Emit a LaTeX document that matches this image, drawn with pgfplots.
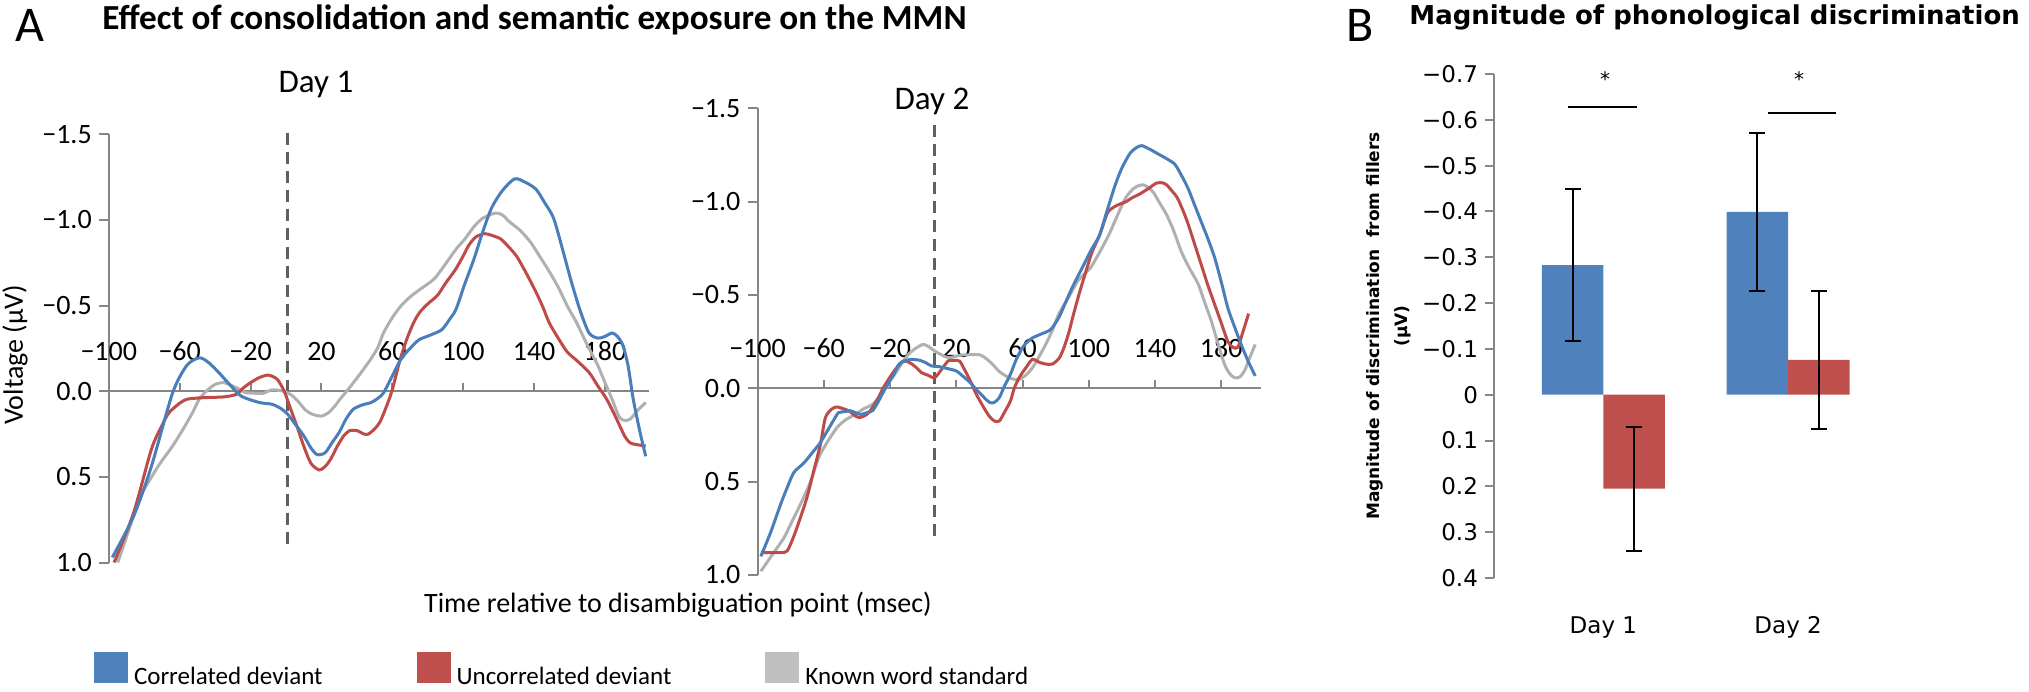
\documentclass[border=0pt]{standalone}
\usepackage{pgfplots}
\pgfplotsset{compat=1.18}
\usepackage{fontspec}
\setmainfont{Carlito}
\newfontfamily\dejavu{DejaVu Sans}
\definecolor{cblue}{HTML}{4A7EBB}
\definecolor{cred}{HTML}{BE4B48}
\definecolor{cgray}{HTML}{B0B0B0}
\definecolor{bblue}{HTML}{4F81BD}
\definecolor{bred}{HTML}{C0504D}
\definecolor{bgray}{HTML}{BFBFBF}
\definecolor{axgray}{HTML}{868686}
\definecolor{dashgray}{HTML}{606060}

\pgfplotsset{
  linepanel/.style={
    scale only axis, clip=false, enlargelimits=false,
    y dir=reverse,
    axis x line=middle, axis y line=left,
    hide obscured x ticks=false, hide obscured y ticks=false,
    axis line style={-, draw=axgray, line width=1pt},
    ymin=-1.5, ymax=1.0,
    ytick={-1.5,-1,-0.5,0,0.5,1},
    yticklabels={−1.5,−1.0,−0.5,0.0,0.5,1.0},
    xtick={-100,-60,-20,20,60,100,140,180},
    xticklabels={−100,−60,−20,20,60,100,140,180},
    xtick style={draw=none},
    tick align=outside,
    major tick length=5pt,
    ytick style={draw=axgray, line width=1pt},
    tick label style={font=\fontsize{14pt}{16pt}\selectfont},
    xticklabel style={anchor=center, yshift=25pt},
    every axis plot/.append style={line width=1.5pt, smooth, tension=0.45, mark=none},
  },
}

\begin{document}
\begin{tikzpicture}
\useasboundingbox (0,0) rectangle (1014.5pt,345.5pt);

% ---------------- Day 1 ----------------
\begin{axis}[linepanel,
  at={(189.525pt,171.3pt)}, anchor=center, width=270.25pt, height=214.1pt,
  xmin=-100, xmax=205,
  every axis y label/.style={at={(axis description cs:-0.1735,0.485)}, rotate=90, anchor=center, font=\fontsize{14pt}{16pt}\selectfont},
  ylabel={Voltage (μV)},
]
\pgfplotsinvokeforeach{-60,-20,20,60,100,140,180}{\draw[axgray, line width=1pt] (axis cs:#1,0) -- ++(0pt,4pt);}
\addplot[dashgray, sharp plot, line width=1.5pt, dash pattern=on 6pt off 3.5pt] coordinates {(1,-1.51) (1,0.905)};
\addplot[cgray] coordinates {(-95,1.0) (-89,0.82) (-83,0.63) (-77,0.52) (-71,0.42) (-64,0.32) (-58,0.22) (-53,0.13) (-49,0.047) (-45,0.0) (-40,-0.04) (-35,-0.05) (-30,-0.03) (-26,-0.01) (-23,0.008) (-17,0.012) (-13,0.012) (-8,-0.008) (-4,-0.005) (0,0.004) (4,0.03) (7.4,0.066) (11,0.11) (15,0.135) (20,0.145) (24,0.125) (27.6,0.086) (31,0.04) (35,-0.01) (41,-0.09) (48,-0.19) (52,-0.26) (55,-0.34) (60,-0.43) (65,-0.50) (70,-0.55) (75,-0.59) (83,-0.65) (87,-0.70) (90.5,-0.75) (96,-0.83) (101,-0.89) (106,-0.96) (111,-1.01) (118,-1.04) (122,-1.03) (126,-0.99) (132,-0.94) (138,-0.87) (143,-0.79) (148.5,-0.70) (154,-0.60) (158.6,-0.50) (164,-0.40) (168.6,-0.30) (173,-0.21) (176,-0.15) (180,-0.05) (184,0.047) (188,0.15) (191,0.17) (194,0.164) (197,0.13) (199,0.105) (203,0.066)};
\addplot[cred] coordinates {(-97,1.0) (-86,0.71) (-76,0.34) (-70,0.2) (-66,0.125) (-60,0.07) (-56,0.047) (-50,0.04) (-45,0.037) (-35,0.033) (-28,0.018) (-24,-0.02) (-20,-0.05) (-15,-0.08) (-10,-0.094) (-5,-0.07) (-1,0.0) (2,0.086) (6,0.2) (10,0.32) (14,0.42) (18.7,0.46) (22,0.44) (25,0.40) (29,0.32) (32.6,0.26) (36,0.23) (40,0.23) (44,0.25) (46.5,0.25) (50,0.22) (53,0.18) (57,0.08) (60,-0.01) (64,-0.17) (68,-0.30) (72,-0.40) (75.4,-0.46) (80,-0.51) (85.5,-0.56) (90,-0.63) (95.6,-0.71) (100,-0.79) (103,-0.85) (107,-0.90) (112,-0.92) (116,-0.91) (121,-0.89) (125,-0.85) (130,-0.79) (135,-0.70) (141,-0.58) (145,-0.49) (148.5,-0.40) (153,-0.32) (158.6,-0.23) (164,-0.18) (171,-0.11) (176,-0.03) (181,0.047) (186,0.15) (191,0.26) (194,0.30) (197,0.31) (203,0.32)};
\addplot[cblue] coordinates {(-98,0.97) (-86,0.73) (-76,0.44) (-64,0.01) (-56,-0.15) (-49,-0.195) (-44,-0.17) (-38,-0.11) (-31,-0.03) (-25,0.03) (-15,0.066) (-8,0.076) (-3,0.1) (1,0.135) (5,0.19) (10,0.26) (14,0.33) (17.5,0.37) (22,0.36) (26,0.3) (30,0.24) (34,0.16) (38,0.105) (43,0.08) (48,0.066) (52,0.04) (55,0.01) (60,-0.09) (65,-0.19) (70,-0.25) (75,-0.30) (82,-0.33) (88,-0.36) (93,-0.43) (96,-0.48) (101,-0.63) (106,-0.77) (111,-0.93) (116,-1.07) (122,-1.17) (129,-1.24) (135,-1.22) (141,-1.18) (146,-1.10) (151,-1.01) (156,-0.83) (161,-0.64) (166,-0.47) (171,-0.34) (176,-0.31) (180,-0.32) (184,-0.34) (187,-0.32) (190,-0.27) (193,-0.15) (196,0.05) (200,0.25) (203,0.38)};
\end{axis}

% ---------------- Day 2 ----------------
\begin{axis}[linepanel,
  at={(504.625pt,174.675pt)}, anchor=center, width=251.75pt, height=233.35pt,
  xmin=-100, xmax=204,
]
\pgfplotsinvokeforeach{-60,-20,20,60,100,140,180}{\draw[axgray, line width=1pt] (axis cs:#1,0) -- ++(0pt,4pt);}
\addplot[dashgray, sharp plot, line width=1.5pt, dash pattern=on 6pt off 3.5pt] coordinates {(7,-1.41) (7,0.80)};
\addplot[cgray] coordinates {(-98,0.98) (-91,0.89) (-84,0.80) (-79,0.71) (-74,0.62) (-68,0.50) (-63,0.37) (-58,0.29) (-52,0.21) (-47,0.17) (-41,0.14) (-36,0.11) (-30.6,0.086) (-25,0.03) (-20,-0.04) (-16,-0.09) (-12,-0.146) (-8,-0.19) (-4,-0.217) (0,-0.235) (3,-0.225) (7,-0.20) (11,-0.18) (15,-0.164) (19,-0.17) (23,-0.178) (28,-0.18) (34,-0.18) (38,-0.16) (42,-0.128) (46,-0.09) (50,-0.066) (54,-0.05) (58,-0.048) (62,-0.07) (66,-0.11) (70,-0.17) (74,-0.235) (78,-0.31) (82,-0.40) (88,-0.49) (93,-0.57) (97,-0.61) (101,-0.645) (106,-0.72) (112,-0.82) (116,-0.90) (120,-0.98) (123,-1.03) (127,-1.07) (130,-1.085) (133,-1.09) (136,-1.075) (139,-1.05) (143,-0.99) (147,-0.93) (151,-0.85) (156,-0.73) (161,-0.64) (166,-0.56) (170,-0.46) (174,-0.36) (178,-0.24) (182,-0.128) (185,-0.08) (188,-0.057) (191,-0.06) (194,-0.093) (197,-0.16) (200.5,-0.235)};
\addplot[cred] coordinates {(-98,0.88) (-86,0.88) (-82,0.87) (-78,0.79) (-74,0.69) (-70,0.58) (-66,0.44) (-62,0.30) (-59,0.157) (-55,0.11) (-52,0.10) (-48,0.11) (-45,0.12) (-42,0.14) (-38.7,0.157) (-34,0.14) (-30.6,0.103) (-27,0.05) (-24,-0.004) (-20,-0.06) (-16,-0.11) (-12,-0.146) (-8,-0.137) (-4,-0.11) (-1,-0.084) (3,-0.07) (7,-0.057) (11,-0.10) (15,-0.146) (18,-0.15) (22,-0.146) (25,-0.10) (28.5,-0.04) (32,0.03) (36.6,0.103) (40,0.15) (43,0.175) (46,0.175) (49,0.13) (52.7,0.068) (55,0.0) (58,-0.057) (62,-0.11) (66,-0.155) (70,-0.14) (74,-0.13) (78,-0.13) (82,-0.16) (85,-0.217) (88,-0.30) (90.3,-0.38) (94,-0.50) (98.4,-0.63) (102,-0.73) (106.5,-0.82) (110,-0.91) (112,-0.95) (117,-0.98) (122.6,-1.00) (126,-1.02) (130.6,-1.04) (136,-1.07) (141,-1.10) (145,-1.10) (147,-1.09) (150,-1.06) (153.5,-1.02) (157,-0.95) (160,-0.88) (164,-0.77) (168,-0.66) (172,-0.55) (176,-0.45) (180,-0.35) (184,-0.25) (187,-0.22) (190,-0.22) (193,-0.30) (196.5,-0.40)};
\addplot[cblue] coordinates {(-98,0.90) (-92,0.77) (-86,0.62) (-82,0.53) (-78,0.45) (-72,0.40) (-66,0.335) (-62,0.29) (-58,0.23) (-54,0.17) (-51,0.13) (-47,0.125) (-44,0.12) (-41,0.13) (-37.4,0.14) (-34,0.13) (-30.6,0.12) (-27,0.07) (-22.6,-0.004) (-18,-0.07) (-14.5,-0.13) (-10,-0.15) (-6.5,-0.155) (-2,-0.15) (1.6,-0.137) (5,-0.12) (9.7,-0.116) (15,-0.105) (20,-0.093) (24,-0.065) (28.5,-0.03) (32,0.005) (35,0.032) (38,0.06) (40.6,0.077) (43,0.075) (46,0.05) (49,-0.01) (52.7,-0.075) (56,-0.15) (59.4,-0.21) (62,-0.24) (66,-0.27) (71,-0.29) (77,-0.315) (82,-0.38) (86,-0.46) (90,-0.54) (94,-0.61) (98,-0.68) (102,-0.75) (106.5,-0.82) (111,-0.95) (116,-1.09) (120,-1.18) (125,-1.26) (129,-1.29) (132,-1.30) (137,-1.28) (141,-1.26) (147,-1.23) (152,-1.20) (156,-1.14) (160,-1.07) (164,-0.98) (168,-0.89) (172,-0.80) (176,-0.70) (180,-0.57) (184,-0.43) (188,-0.33) (192,-0.235) (196,-0.15) (200.5,-0.066)};
\end{axis}

% ---------------- Legend ----------------
\begin{axis}[hide axis, scale only axis, width=10pt, height=10pt,
  at={(47pt,10.5pt)}, anchor=west, xmin=0, xmax=1, ymin=0, ymax=1,
  legend columns=3,
  legend style={at={(0,0.5)}, anchor=west, draw=none, fill=none, inner sep=0pt, outer sep=0pt,
    nodes={inner sep=0pt}, font=\fontsize{12.5pt}{15pt}\selectfont,
    /tikz/every even column/.append style={column sep=47pt}},
  legend image code/.code={\fill[#1] (0pt,-3pt) rectangle (17pt,12.5pt); \path (20pt,0pt);},
]
\addlegendimage{fill=bblue, draw=none}
\addlegendentry{Correlated deviant}
\addlegendimage{fill=bred, draw=none}
\addlegendentry{Uncorrelated deviant}
\addlegendimage{fill=bgray, draw=none}
\addlegendentry{Known word standard}
\end{axis}

% ---------------- Bar chart ----------------
\begin{axis}[
  scale only axis, clip=false, enlargelimits=false,
  at={(847.875pt,182.5pt)}, anchor=center, width=201.75pt, height=252pt,
  y dir=reverse,
  xmin=0.408, xmax=2.592, ymin=-0.7, ymax=0.4,
  axis y line=left, axis x line=middle,
  axis line style={-, draw=axgray, line width=1pt},
  x axis line style={draw=none},
  xtick={1,2}, xticklabels={Day 1, Day 2},
  xtick style={draw=none},
  xticklabel style={anchor=center, yshift=-112pt},
  ytick={-0.7,-0.6,-0.5,-0.4,-0.3,-0.2,-0.1,0,0.1,0.2,0.3,0.4},
  yticklabels={−0.7,−0.6,−0.5,−0.4,−0.3,−0.2,−0.1,0,0.1,0.2,0.3,0.4},
  tick align=outside, major tick length=4.5pt,
  ytick style={draw=axgray, line width=1pt},
  tick label style={font=\dejavu\fontsize{11.5pt}{14pt}\selectfont},
  every axis y label/.style={at={(axis description cs:-0.26,0.5)}, rotate=90, anchor=center, align=center,
    font=\dejavu\bfseries\fontsize{8.5pt}{14pt}\selectfont},
  ylabel={Magnitude of discrimination~ from fillers\\(μV)},
]
\addplot[ybar, bar width=30.75pt, bar shift=0pt, fill=bblue, draw=none,
  error bars/.cd, y dir=both, y explicit,
  error bar style={black, line width=1pt},
  error mark options={rotate=90, black, line width=1pt, mark size=4pt}]
  coordinates {(0.8338,-0.283) +- (0,0.165) (1.8338,-0.399) +- (0,0.172)};
\addplot[ybar, bar width=30.75pt, bar shift=0pt, fill=bred, draw=none,
  error bars/.cd, y dir=both, y explicit,
  error bar style={black, line width=1pt},
  error mark options={rotate=90, black, line width=1pt, mark size=4pt}]
  coordinates {(1.1662,0.205) +- (0,0.135) (2.1662,-0.076) +- (0,0.15)};
\addplot[black, line width=1pt, sharp plot, mark=none] coordinates {(0.81,-0.627) (1.18,-0.627)};
\addplot[black, line width=1pt, sharp plot, mark=none] coordinates {(1.89,-0.614) (2.26,-0.614)};
\node[font=\dejavu\fontsize{10pt}{12pt}\selectfont] at (axis cs:1.01,-0.69) {*};
\node[font=\dejavu\fontsize{10pt}{12pt}\selectfont] at (axis cs:2.06,-0.69) {*};
\end{axis}

% ---------------- Titles ----------------
\node[anchor=base, font=\fontsize{25pt}{30pt}\selectfont] at (15pt,324.5pt) {A};
\node[anchor=base west, inner sep=0pt, font=\bfseries\fontsize{17.6pt}{21pt}\selectfont] at (51pt,330.5pt) {Effect of consolidation and semantic exposure on the MMN};
\node[anchor=base, font=\fontsize{16.5pt}{20pt}\selectfont] at (158pt,299pt) {Day 1};
\node[anchor=base, font=\fontsize{16.5pt}{20pt}\selectfont] at (466pt,290.5pt) {Day 2};
\node[anchor=base, font=\fontsize{14pt}{16pt}\selectfont] at (339pt,39.5pt) {Time relative to disambiguation point (msec)};
\node[anchor=base, font=\fontsize{25pt}{30pt}\selectfont] at (680pt,324.5pt) {B};
\node[anchor=base west, inner sep=0pt, font=\dejavu\bfseries\fontsize{13pt}{16pt}\selectfont] at (704.5pt,333pt) {Magnitude of phonological discrimination};
\end{tikzpicture}
\end{document}
